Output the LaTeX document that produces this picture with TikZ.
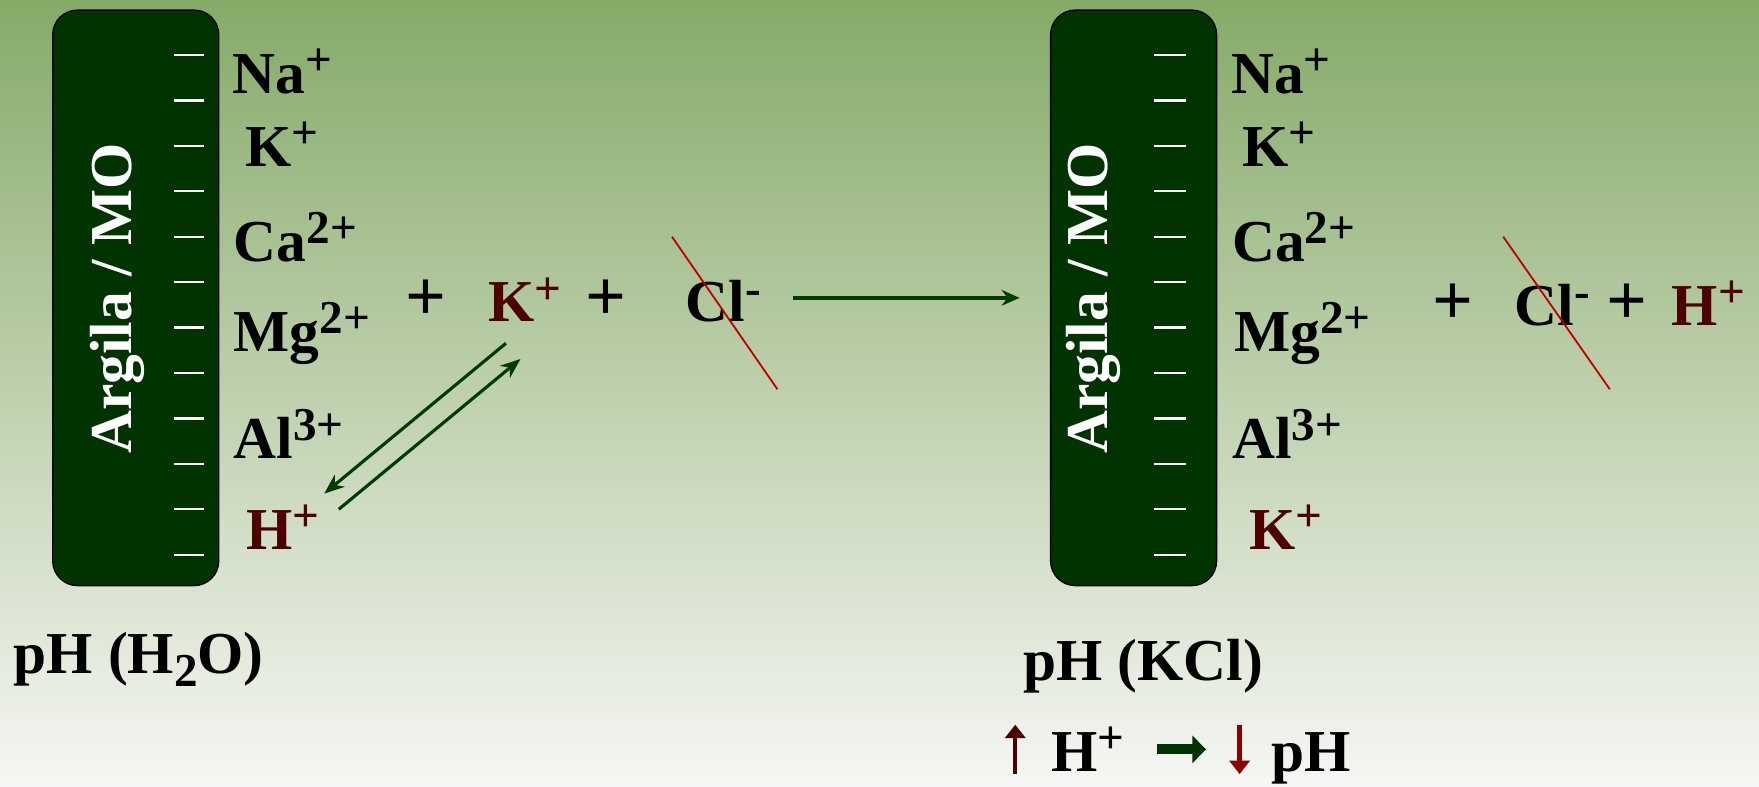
\documentclass[tikz,border=0pt]{standalone}
\usepackage{fontspec}
\setmainfont{Liberation Serif}
\usetikzlibrary{arrows.meta,calc}
\definecolor{boxgreen}{RGB}{0,51,0}
\definecolor{topgreen}{RGB}{134,170,104}
\definecolor{paleback}{RGB}{246,247,244}
\definecolor{ionred}{RGB}{77,0,0}
\definecolor{cutred}{RGB}{190,0,0}
\definecolor{downred}{RGB}{139,0,0}
\definecolor{arrgreen}{RGB}{0,60,0}
\newcommand{\ionfont}{\fontsize{26.5}{30}\selectfont\bfseries}
\newcommand{\plusfont}{\fontsize{32}{34}\selectfont\bfseries}
\newcommand{\phfont}{\fontsize{26.5}{30}\selectfont\bfseries}
\newcommand{\ionsup}[1]{\raisebox{8pt}{\fontsize{21}{22}\selectfont #1}}
\newcommand{\ionsub}[1]{\raisebox{-6pt}{\fontsize{21}{22}\selectfont #1}}
\tikzset{
  argbox/.style={draw=black, line width=0.6pt, fill=boxgreen, rounded corners=11pt, minimum width=74pt, minimum height=256.5pt, inner sep=0pt},
  argtxt/.style={text=white, rotate=90, font=\ionfont, inner sep=0pt},
  slotline/.style={draw=white, line width=1pt},
  ion/.style={anchor=base west, font=\ionfont, inner sep=0pt},
  plussign/.style={font=\plusfont, inner sep=0pt},
  phlab/.style={anchor=base west, font=\phfont, inner sep=0pt},
  cutline/.style={draw=cutred, line width=0.8pt},
  rxarr/.style={-{Stealth[length=9pt,width=7pt]}, draw=arrgreen, fill=arrgreen, line width=1.4pt},
  longarr/.style={-{Stealth[length=8pt,width=7pt]}, draw=arrgreen, fill=arrgreen, line width=1.6pt},
  uparr/.style={-{Triangle[length=6pt,width=9pt]}, draw=ionred, fill=ionred, line width=2pt},
  downarr/.style={-{Triangle[length=6pt,width=9pt]}, draw=downred, fill=downred, line width=2pt},
  fatarr/.style={-{Triangle[length=6pt,width=12pt]}, draw=boxgreen, fill=boxgreen, line width=4.5pt}
}
\begin{document}
\begin{tikzpicture}[x=0.5pt,y=-0.5pt]
\shade[top color=topgreen, bottom color=paleback] (0,0) rectangle (1568,701);
\useasboundingbox (0,0) rectangle (1568,701);
\node[argbox] (box1) at (121,265.5) {};
\node[argbox] (box2) at (1010.5,265.5) {};
\foreach \i in {0,...,11} {
  \draw[slotline] (155,49+40.5*\i) -- (182,49+40.5*\i);
  \draw[slotline] (1029,49+40.5*\i) -- (1057,49+40.5*\i);
}
\node[argtxt] (lab1) at (105,266) {Argila / MO};
\node[argtxt] (lab2) at (975,266) {Argila / MO};

\node[ion] (na1) at (207,83) {Na\ionsup{+}};
\node[ion] (k1) at (218,148) {K\ionsup{+}};
\node[ion] (ca1) at (208,233) {Ca\ionsup{2+}};
\node[ion] (mg1) at (208,313) {Mg\ionsup{2+}};
\node[ion] (al1) at (208,409) {Al\ionsup{3+}};
\node[ion, text=ionred] (h1) at (219,490) {H\ionsup{+}};

\node[plussign] (p1) at (380,268) {+};
\node[ion, text=ionred] (kin) at (435,287) {K\ionsup{+}};
\node[plussign] (p2) at (540,268) {+};
\node[ion] (cl1) at (611,287) {Cl\ionsup{-}};
\draw[cutline] ($(cl1.base west)+(-12,-76)$) -- ($(cl1.base west)+(82,60)$);
\draw[rxarr] ($(kin.base west)+(16,19)$) -- ($(h1.base west)+(70,-50)$);
\draw[rxarr] ($(h1.base west)+(83,-36)$) -- ($(kin.base west)+(29,33)$);
\draw[longarr] ($(box2.west)+(-229,0)$) -- ($(box2.west)+(-27,0)$);

\node[ion] (na2) at (1097,83) {Na\ionsup{+}};
\node[ion] (k2) at (1107,148) {K\ionsup{+}};
\node[ion] (ca2) at (1098,233) {Ca\ionsup{2+}};
\node[ion] (mg2) at (1100,313) {Mg\ionsup{2+}};
\node[ion] (al2) at (1098,409) {Al\ionsup{3+}};
\node[ion, text=ionred] (k3) at (1113,490) {K\ionsup{+}};

\node[plussign] (p3) at (1295,271) {+};
\node[ion] (cl2) at (1350,290) {Cl\ionsup{-}};
\node[plussign] (p4) at (1450,271) {+};
\node[ion, text=ionred] (h2) at (1490,290) {H\ionsup{+}};
\draw[cutline] ($(cl2.base west)+(-10,-79)$) -- ($(cl2.base west)+(85,57)$);

\node[phlab] (ph1) at (12,600) {pH (H\ionsub{2}O)};
\node[phlab] (ph2) at (912,607) {pH (KCl)};
\node[phlab] (hb) at (937,688) {H\ionsup{+}};
\node[phlab] (phb) at (1133,688) {pH};
\coordinate (upfoot) at (905,690);
\coordinate (uptop) at (905,646);
\draw[uparr] (upfoot) -- (uptop);
\draw[fatarr] ($(hb.base east)+(28,-20)$) -- ($(hb.base east)+(72,-20)$);
\draw[downarr] ($(phb.base west)+(-28,-42)$) -- ($(phb.base west)+(-28,2)$);
\end{tikzpicture}
\end{document}
